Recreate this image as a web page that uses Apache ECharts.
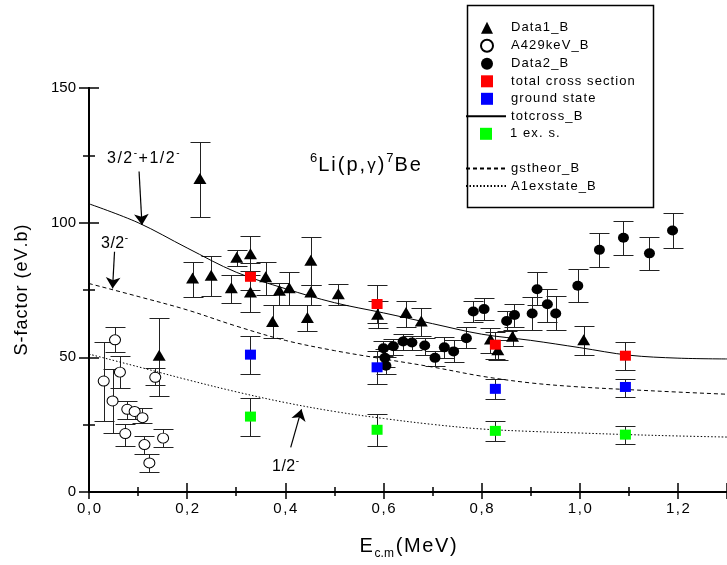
<!DOCTYPE html>
<html>
<head>
<meta charset="utf-8">
<title>S-factor 6Li(p,g)7Be</title>
<script src="https://cdn.jsdelivr.net/npm/echarts@6/dist/echarts.min.js"></script>
<style>
  html, body { margin: 0; padding: 0; background: #fff; }
  #chart { width: 727px; height: 565px; }
</style>
</head>
<body>
<div id="chart"></div>
<script>
  // rows are [E (MeV), S (eV.b), lower, upper]
  const data1 = [
    [0.143, 50.8, 35.6, 64.7], [0.211, 79.5, 72.5, 85.4], [0.226, 116.4, 102.2, 130.0],
    [0.249, 80.5, 72.9, 87.6], [0.290, 75.8, 70.0, 80.5], [0.301, 87.2, 83.8, 89.9],
    [0.329, 88.5, 82.0, 95.2], [0.329, 74.3, 67.0, 80.5], [0.360, 79.9, 73.1, 85.4],
    [0.374, 63.3, 57.0, 69.4], [0.388, 74.9, 69.4, 77.6], [0.408, 75.8, 69.4, 81.7],
    [0.445, 64.8, 59.8, 69.4], [0.452, 86.0, 76.8, 94.6], [0.452, 74.3, 69.4, 76.8],
    [0.508, 73.6, 69.4, 77.1], [0.588, 66.0, 60.8, 71.0], [0.646, 66.6, 61.1, 70.9],
    [0.677, 63.5, 57.8, 68.2], [0.818, 56.8, 51.6, 60.8], [0.833, 52.8, 49.1, 56.5],
    [0.863, 57.8, 54.3, 60.2], [1.008, 56.5, 51.0, 61.8]
  ]
  const a429 = [
    [0.030, 41.2, 26.2, 55.7], [0.048, 33.8, 21.9, 45.7], [0.053, 56.5, 52.0, 61.1],
    [0.063, 44.5, 38.7, 50.4], [0.074, 21.7, 17.2, 25.4], [0.078, 30.7, 27.0, 33.8],
    [0.093, 29.9, 27.0, 31.3], [0.109, 27.6, 25.8, 31.3], [0.113, 17.6, 14.1, 20.9],
    [0.123, 10.8, 7.4, 14.1], [0.135, 42.6, 39.7, 46.1], [0.151, 20.0, 16.6, 23.3]
  ]
  const data2 = [
    [0.600, 53.4, 50.4, 56.1], [0.603, 49.8, 46.5, 53.0], [0.605, 46.9, 43.9, 50.0],
    [0.620, 54.1, 51.0, 56.8], [0.640, 55.9, 52.8, 58.6], [0.658, 55.5, 52.8, 58.0],
    [0.684, 54.4, 51.0, 57.1], [0.705, 49.8, 46.7, 52.4], [0.724, 53.7, 49.8, 57.5],
    [0.743, 52.2, 48.3, 56.5], [0.769, 57.1, 53.4, 61.1], [0.783, 67.0, 63.3, 70.9],
    [0.805, 67.9, 63.9, 71.9], [0.851, 63.5, 59.6, 67.2], [0.867, 65.7, 61.4, 69.7],
    [0.903, 66.3, 60.2, 72.5], [0.913, 75.3, 69.4, 81.5], [0.934, 69.7, 63.3, 75.5],
    [0.951, 66.3, 60.2, 72.9], [0.996, 76.6, 70.4, 82.9], [1.040, 89.9, 83.5, 96.2],
    [1.089, 94.4, 88.1, 100.5], [1.142, 88.6, 82.6, 94.8], [1.189, 97.1, 90.7, 103.5]
  ]
  const totalCS = [[0.329, 79.9, 75.0, 85.0], [0.587, 69.8, 62.6, 77.0], [0.828, 54.7, 49.5, 59.5], [1.093, 50.6, 45.4, 55.7]]
  const groundSt = [[0.329, 51.0, 43.9, 57.8], [0.587, 46.3, 40.2, 52.2], [0.828, 38.3, 34.6, 41.8], [1.093, 39.0, 35.4, 42.0]]
  const exState1 = [[0.329, 28.0, 20.9, 35.0], [0.587, 23.1, 17.0, 29.1], [0.828, 22.7, 19.1, 26.4], [1.093, 21.3, 17.8, 24.6]]

  // theory curves
  const curveE = [0, 0.1, 0.2, 0.3, 0.4, 0.5, 0.6, 0.7, 0.8, 0.9, 1.0, 1.1, 1.2, 1.3]
  const totcross = [107, 100, 90.6, 81.6, 75.5, 70.3, 66.5, 62.5, 58.6, 56.3, 53.6, 50.8, 49.7, 49.4]
  const gstheor = [77.4, 72.6, 67.6, 61.6, 56.3, 52.5, 49.4, 46.4, 43.0, 40.5, 39.0, 38.0, 37.1, 36.3]
  const a1exstate = [51.2, 46.5, 41.7, 37.2, 33.2, 29.9, 27.3, 25.1, 23.4, 22.5, 21.9, 21.3, 20.8, 20.4]

  // annotation arrows, [from, to] in data units
  const arrows = [
    [[0.102, 119.0], [0.108, 99.1]],
    [[0.052, 89.2], [0.048, 75.6]],
    [[0.411, 16.6], [0.433, 30.7]]
  ]

  const FONT = 'Liberation Sans, Arial, sans-serif'

  const pair = (xs, ys) => xs.map((x, i) => [x, ys[i]])
  // one rich token per character, so the text gets a little tracking like the original
  const spaced = (str, st) => str.split('').map(c => '{' + st + '|' + c + '}').join('')

  //error bar with caps, drawn by the axes
  function errorBar(params, api) {
    const x = api.value(0)
    const top = api.coord([x, api.value(3)])
    const bot = api.coord([x, api.value(2)])
    const cx = Math.round(top[0]) + 0.5
    const ty = Math.round(top[1]) + 0.5
    const by = Math.round(bot[1]) + 0.5
    const st = { stroke: '#222', lineWidth: 1 }
    return {
      type: 'group',
      children: [
        { type: 'line', shape: { x1: cx, y1: ty, x2: cx, y2: by }, style: st },
        { type: 'line', shape: { x1: cx - 10, y1: ty, x2: cx + 10, y2: ty }, style: st },
        { type: 'line', shape: { x1: cx - 10, y1: by, x2: cx + 10, y2: by }, style: st }
      ]
    }
  }

  function bars(rows) {
    return { type: 'custom', renderItem: errorBar, data: rows, encode: { x: 0, y: 1 }, z: 2, silent: true }
  }

  function points(name, rows, symbol, size, style) {
    return {
      name: name, type: 'scatter', symbol: symbol, symbolSize: size,
      data: rows.map(r => [r[0], r[1]]), itemStyle: Object.assign({ opacity: 1 }, style), z: 4, silent: true
    }
  }

  function curve(name, ys, dash) {
    return {
      name: name, type: 'line', data: pair(curveE, ys), smooth: 0.35,
      symbol: 'none', itemStyle: { color: '#000' },
      lineStyle: { color: '#000', width: 1, type: dash }, z: 3, silent: true
    }
  }

  const tickFmt = v => v.toFixed(1).replace('.', ',')

  const xBase = {
    type: 'value', min: 0, max: 1.3, interval: 0.2,
    axisLine: { lineStyle: { color: '#000', width: 2 } },
    axisTick: { inside: true, length: 9, lineStyle: { color: '#000', width: 1.5 } },
    minorTick: { show: true, splitNumber: 2, length: 5, lineStyle: { color: '#000', width: 1.5 } },
    splitLine: { show: false }
  }
  const yBase = {
    type: 'value', min: 0, max: 150, interval: 50,
    axisLine: { show: true, lineStyle: { color: '#000', width: 2 } },
    axisTick: { show: true, inside: true, length: 10, lineStyle: { color: '#000', width: 1.5 } },
    minorTick: { show: true, splitNumber: 2, length: 6, lineStyle: { color: '#000', width: 1.5 } },
    splitLine: { show: false }
  }

  function legend(names, top, isLine) {
    const leg = {
      data: names, orient: 'vertical', top: top, padding: 0,
      left: isLine ? 465 : 480,
      itemWidth: isLine ? 40 : 12, itemHeight: 12, itemGap: 4.5,
      formatter: n => (isLine ? '' : '{pad|}') + spaced(n, 'l'),
      textStyle: {
        fontSize: 13, color: '#000', fontFamily: FONT, lineHeight: 12,
        rich: {
          pad: { width: 13, lineHeight: 12 },
          l: { fontSize: 13, fontFamily: FONT, color: '#000', lineHeight: 12, padding: [0, 1.1, 0, 0] }
        }
      },
      selectedMode: false
    }
    // the theory lines show only their line in the key
    if (isLine) leg.itemStyle = { opacity: 0 }
    return leg
  }

  const annoRich = (size, pad) => ({
    m: { fontSize: size, lineHeight: 22, fill: '#000', fontFamily: FONT, padding: [0, pad, 0, 0] },
    s: { fontSize: 10, lineHeight: 8, verticalAlign: 'top', fill: '#000', fontFamily: FONT, padding: [0, pad, 0, 0] }
  })

  const chart = echarts.init(document.getElementById('chart'))
  chart.setOption({
    animation: false,
    backgroundColor: '#fff',
    textStyle: { fontFamily: FONT },
    grid: { left: 89, right: -13, top: 88, bottom: 70 },
    xAxis: [
      Object.assign({}, xBase, {
        position: 'bottom',
        axisLabel: {
          formatter: v => spaced(tickFmt(v), 't'), margin: 9, showMaxLabel: false,
          rich: { t: { fontSize: 15, color: '#000', fontFamily: FONT, padding: [0, 0.8, 0, 0.8] } }
        },
        name: spaced('E', 'm') + '{sub|c.m}' + spaced('(MeV)', 'm'),
        nameLocation: 'middle', nameGap: 40,
        nameTextStyle: {
          rich: {
            m: { fontSize: 20, color: '#000', lineHeight: 28, fontFamily: FONT, padding: [0, 0.8, 0, 0.8] },
            sub: { fontSize: 12, color: '#000', lineHeight: 6, verticalAlign: 'bottom', fontFamily: FONT, padding: [0, 1, 0, 1] }
          }
        }
      }),
      Object.assign({}, xBase, { position: 'top', axisLabel: { show: false },
        axisTick: { inside: true, length: 7, lineStyle: { color: '#000', width: 1.5 } },
        minorTick: { show: true, splitNumber: 2, length: 4, lineStyle: { color: '#000', width: 1.5 } } })
    ],
    yAxis: [
      Object.assign({}, yBase, {
        position: 'left',
        axisLabel: { color: '#000', fontSize: 15, margin: 13 },
        name: spaced('S-factor (eV.b)', 'n'), nameLocation: 'middle', nameGap: 58,
        nameTextStyle: { rich: { n: { fontSize: 18, color: '#000', fontFamily: FONT, padding: [0, 0.5, 0, 0.5] } } }
      }),
      Object.assign({}, yBase, { position: 'right', axisLabel: { show: false } })
    ],
    legend: [
      legend(['Data1_B', 'A429keV_B', 'Data2_B', 'total cross section', 'ground state'], 21.3, false),
      legend(['totcross_B'], 109.7, true),
      legend(['1 ex. s.'], 127.3, false),
      legend(['gstheor_B', 'A1exstate_B'], 162, true)
    ],
    graphic: [
      { type: 'rect', left: 465, top: 3, shape: { width: 186, height: 202 },
        style: { fill: 'none', stroke: '#000', lineWidth: 1.5 }, z: 10 },
      { type: 'text', left: 310, top: 152, z: 10,
        style: { text: '{s|6}' + spaced('Li(p,', 'm') + '{g|γ}{m|)}{s|7}' + spaced('Be', 'm'),
          rich: {
            m: { fontSize: 20, lineHeight: 26, fill: '#000', fontFamily: FONT, padding: [0, 2, 0, 0] },
            g: { fontSize: 17, lineHeight: 26, fill: '#000', fontFamily: FONT, padding: [0, 2, 0, 0] },
            s: { fontSize: 13, lineHeight: 11, verticalAlign: 'top', fill: '#000', fontFamily: FONT, padding: [0, 1, 0, 0] }
          } } },
      { type: 'text', left: 107, top: 148, z: 10,
        style: { text: spaced('3/2', 'm') + '{s|-}' + spaced('+1/2', 'm') + '{s|-}', rich: annoRich(16, 1.5) } },
      { type: 'text', left: 101, top: 233, z: 10,
        style: { text: spaced('3/2', 'm') + '{s|-}', rich: annoRich(16, 0.5) } },
      { type: 'text', left: 272, top: 456, z: 10,
        style: { text: spaced('1/2', 'm') + '{s|-}', rich: annoRich(16, 0.5) } }
    ],
    series: [
      curve('totcross_B', totcross, 'solid'),
      curve('gstheor_B', gstheor, [4, 3]),
      curve('A1exstate_B', a1exstate, [1.5, 2]),
      {
        type: 'line', data: [], silent: true,
        markLine: {
          silent: true, symbol: ['none', 'arrow'], symbolSize: 11,
          label: { show: false },
          lineStyle: { color: '#000', width: 1.2, type: 'solid' },
          data: arrows.map(a => [{ coord: a[0] }, { coord: a[1] }])
        }
      },
      bars(data1), bars(a429), bars(data2), bars(totalCS), bars(groundSt), bars(exState1),
      points('Data1_B', data1, 'triangle', [13, 11], { color: '#000' }),
      points('A429keV_B', a429, 'circle', [11, 10], { color: '#fff', borderColor: '#000', borderWidth: 1 }),
      points('Data2_B', data2, 'circle', [11, 10], { color: '#000' }),
      points('total cross section', totalCS, 'rect', [11, 10], { color: '#ff0000' }),
      points('ground state', groundSt, 'rect', [11, 10], { color: '#0000ff' }),
      points('1 ex. s.', exState1, 'rect', [11, 10], { color: '#00ff00' })
    ]
  })
</script>
</body>
</html>
